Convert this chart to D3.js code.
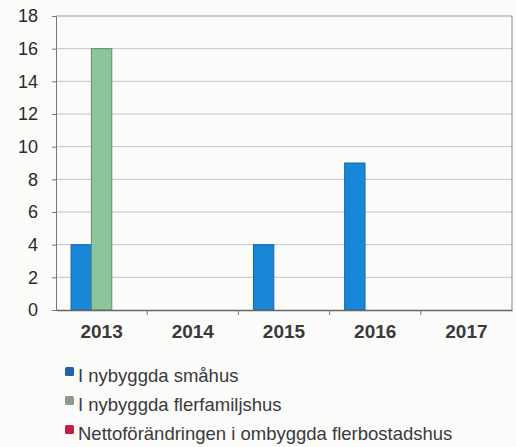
<!DOCTYPE html>
<html>
<head>
<meta charset="utf-8">
<script src="https://cdn.jsdelivr.net/npm/d3@7"></script>
<style>
  body { margin: 0; background: #fbfbfa; }
  svg { display: block; font-family: "Liberation Sans", Arial, sans-serif; }
</style>
</head>
<body>
<div id="chart"></div>
<script>
// data
var years = ["2013", "2014", "2015", "2016", "2017"];
var seriesNames = ["I nybyggda småhus", "I nybyggda flerfamiljshus", "Nettoförändringen i ombyggda flerbostadshus"];
var smahus = [4, 0, 4, 9, 0];
var flerfamiljshus = [16, 0, 0, 0, 0];
var ombyggda = [0, 0, 0, 0, 0];
var yTicks = [0, 2, 4, 6, 8, 10, 12, 14, 16, 18];

var colors = ["#1a86d8", "#8cc59c", "#c8204e"];
var strokes = ["#1466b0", "#5e8e6a", "#901030"];
var legendColors = ["#1f62a8", "#8c9a90", "#c41f4c"];

var W = 516, H = 447;
var margin = {top: 16, right: 4, bottom: 137, left: 56};
var width = W - margin.left - margin.right,
    height = H - margin.top - margin.bottom;

var svg = d3.select("#chart").append("svg")
    .attr("width", W)
    .attr("height", H);

var g = svg.append("g")
    .attr("transform", "translate(" + margin.left + "," + margin.top + ")");

var x = d3.scaleBand().domain(years).range([0, width]);
var xs = d3.scaleBand().domain([0, 1, 2]).range([0, x.bandwidth() * 0.67]);
var y = d3.scaleLinear().domain([0, 18]).range([height, 0]);

// gridlines
g.selectAll(".grid").data(yTicks.filter(function(d) { return d > 0; }))
  .enter().append("line")
    .attr("x1", 0).attr("x2", width)
    .attr("y1", function(d) { return y(d); })
    .attr("y2", function(d) { return y(d); })
    .attr("stroke", function(d) { return d == 18 ? "#9a9a9a" : "#c4c4c4"; })
    .attr("stroke-width", 1);

// right border
g.append("line")
    .attr("x1", width).attr("x2", width)
    .attr("y1", 0).attr("y2", height)
    .attr("stroke", "#8a8a8a");

// bars, one group per series
var series = [smahus, flerfamiljshus, ombyggda];
var off = (x.bandwidth() - xs.range()[1]) / 2;
series.forEach(function(vals, si) {
  g.selectAll(".bar" + si)
    .data(vals.map(function(v, i) { return {year: years[i], value: v}; })
              .filter(function(d) { return d.value > 0; }))
    .enter().append("rect")
      .attr("class", "bar" + si)
      .attr("x", function(d) { return x(d.year) + off + xs(si); })
      .attr("y", function(d) { return y(d.value); })
      .attr("width", xs.bandwidth())
      .attr("height", function(d) { return height - y(d.value); })
      .attr("fill", colors[si])
      .attr("stroke", strokes[si])
      .attr("stroke-width", 1);
});

// y axis
var yAxis = g.append("g")
    .call(d3.axisLeft(y).tickValues(yTicks).tickSize(4).tickPadding(14));
yAxis.select(".domain").attr("stroke", "#777");
yAxis.selectAll(".tick line").attr("stroke", "#777");
yAxis.selectAll("text")
    .attr("fill", "#2a2a2a")
    .style("font-size", "18px");

// x axis
var xAxis = g.append("g")
    .attr("transform", "translate(0," + height + ")")
    .call(d3.axisBottom(x).tickSize(0).tickPadding(15));
xAxis.select(".domain").attr("stroke", "#666").attr("stroke-width", 1.5);
xAxis.selectAll("text")
    .attr("fill", "#3a3a3a")
    .style("font-size", "19px")
    .style("font-weight", "bold");

// small ticks between categories
g.selectAll(".xtick").data(years.slice(1))
  .enter().append("line")
    .attr("x1", function(d) { return x(d); })
    .attr("x2", function(d) { return x(d); })
    .attr("y1", height).attr("y2", height + 5)
    .attr("stroke", "#777");

// legend
var legend = svg.append("g")
    .attr("transform", "translate(65,367)");
seriesNames.forEach(function(name, i) {
  var row = legend.append("g").attr("transform", "translate(0," + (i * 29) + ")");
  row.append("rect")
    .attr("x", 0).attr("y", 0)
    .attr("width", 9).attr("height", 9)
    .attr("rx", 1.5)
    .attr("fill", legendColors[i]);
  row.append("text")
    .attr("x", 13).attr("y", 15)
    .attr("fill", "#3a3a3a")
    .style("font-size", "18.5px")
    .text(name);
});
</script>
</body>
</html>
